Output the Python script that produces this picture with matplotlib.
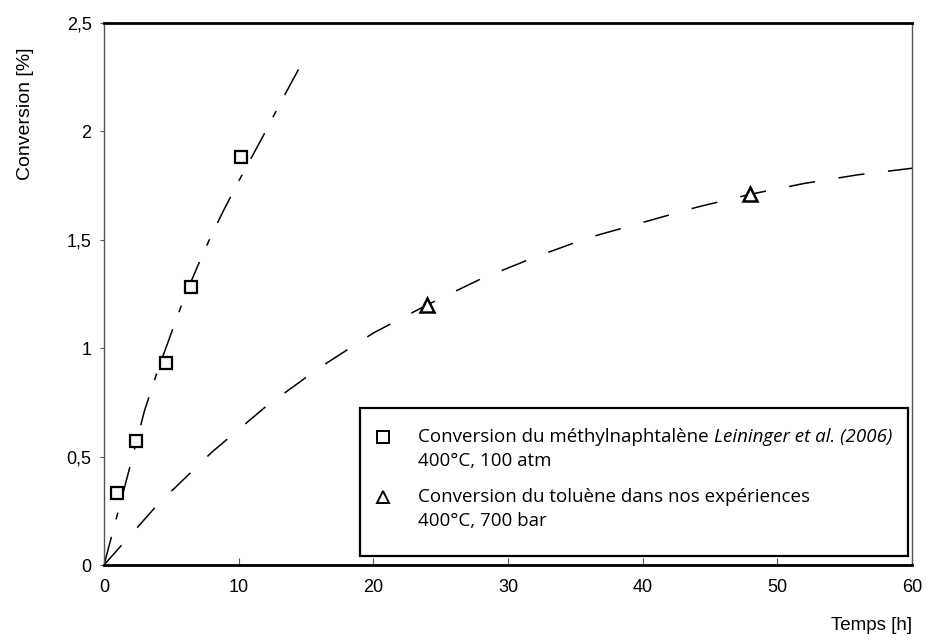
import matplotlib
matplotlib.use("Agg")
import matplotlib.pyplot as plt
from matplotlib.patches import Rectangle

plt.rcParams['font.family'] = ['Liberation Sans', 'DejaVu Sans']
plt.rcParams['lines.scale_dashes'] = False

# donnees
sq_t = [0.95, 2.4, 4.6, 6.45, 10.2]
sq_conv = [0.33, 0.57, 0.93, 1.28, 1.88]
tri_t = [24, 48]
tri_conv = [1.20, 1.71]

# courbes de tendance
fit_sq_t = [0, 1, 2, 3, 4, 5, 6, 7, 8, 9, 10, 11, 12, 13, 14, 14.55]
fit_sq_conv = [0, 0.235, 0.47, 0.71, 0.9, 1.07, 1.24, 1.385, 1.525, 1.65,
               1.77, 1.885, 2.0, 2.12, 2.235, 2.298]
fit_tri_t = [0, 4, 8, 12, 16, 20, 24, 28, 32, 36, 40, 44, 48, 52, 56, 60]
fit_tri_conv = [0, 0.28, 0.52, 0.73, 0.91, 1.07, 1.20, 1.32, 1.42, 1.51,
                1.58, 1.65, 1.71, 1.76, 1.80, 1.83]

x_ticks = [0, 10, 20, 30, 40, 50, 60]
y_ticks = [0, 0.5, 1, 1.5, 2, 2.5]
y_labels = ['0', '0,5', '1', '1,5', '2', '2,5']

leg1 = "Conversion du méthylnaphtalène "
leg1_it = "Leininger et al. (2006)"
leg1_b = "400°C, 100 atm"
leg2 = "Conversion du toluène dans nos expériences"
leg2_b = "400°C, 700 bar"

W, H = 927, 642
fig = plt.figure(figsize=(W / 100, H / 100), dpi=100)
ax = fig.add_axes([104 / W, 1 - 565 / H, (912 - 104) / W, (565 - 23) / H])

ax.plot(fit_sq_t, fit_sq_conv, color='black', lw=1.1, dashes=(21, 13, 5, 13))
ax.plot(fit_tri_t, fit_tri_conv, color='black', lw=1.1, dashes=(19, 17))
ax.plot(sq_t, sq_conv, ls='none', marker='s', ms=9, mew=1.6,
        mfc='#f7f7f7', mec='black', zorder=5)
ax.plot(tri_t, tri_conv, ls='none', marker='^', ms=10, mew=1.8,
        mfc='white', mec='black', zorder=5)

ax.set_xlim(0, 60)
ax.set_ylim(0, 2.5)
ax.set_xticks(x_ticks)
ax.set_yticks(y_ticks)
ax.set_yticklabels(y_labels)
ax.tick_params(axis='x', direction='in', length=5, width=0.8, color='#555555',
               labelsize=13, pad=10)
ax.tick_params(axis='y', direction='out', length=3, width=0.8, color='#555555',
               labelsize=13, pad=6)

for s in ['top', 'bottom']:
    ax.spines[s].set_color('black')
    ax.spines[s].set_linewidth(2.0)
for s in ['left', 'right']:
    ax.spines[s].set_color('#555555')
    ax.spines[s].set_linewidth(1.0)

fig.text(26 / W, 1 - 48 / H, "Conversion [%]", rotation=90, ha='center',
         va='top', fontsize=14)
fig.text(912 / W, 1 - 625 / H, "Temps [h]", ha='right', va='center', fontsize=13.5)

# legende dessinee a la main
box = Rectangle((360 / W, 1 - 556 / H), (908 - 360) / W, (556 - 408) / H,
                transform=fig.transFigure, fill=True, facecolor='white',
                edgecolor='black', lw=1.6, zorder=10)
fig.patches.append(box)

lf = ['Open Sans', 'DejaVu Sans']
fs = 13.5
fig.lines.append(plt.Line2D([383 / W], [1 - 437 / H], transform=fig.transFigure,
                            marker='s', ms=8, mew=1.4, mfc='white', mec='black',
                            ls='none', zorder=11))
fig.lines.append(plt.Line2D([383 / W], [1 - 497 / H], transform=fig.transFigure,
                            marker='^', ms=9, mew=1.4, mfc='white', mec='black',
                            ls='none', zorder=11))

t1 = fig.text(418 / W, 1 - 437 / H, leg1, family=lf, fontsize=fs,
              va='center', zorder=11)
fig.canvas.draw()
bb = t1.get_window_extent(renderer=fig.canvas.get_renderer())
fig.text(bb.x1 / W, 1 - 437 / H, leg1_it, family=lf, fontsize=fs,
         style='italic', va='center', zorder=11)
fig.text(418 / W, 1 - 461 / H, leg1_b, family=lf, fontsize=fs,
         va='center', zorder=11)
fig.text(418 / W, 1 - 497 / H, leg2, family=lf, fontsize=fs,
         va='center', zorder=11)
fig.text(418 / W, 1 - 521 / H, leg2_b, family=lf, fontsize=fs,
         va='center', zorder=11)

fig.savefig("out.png", dpi=100)
